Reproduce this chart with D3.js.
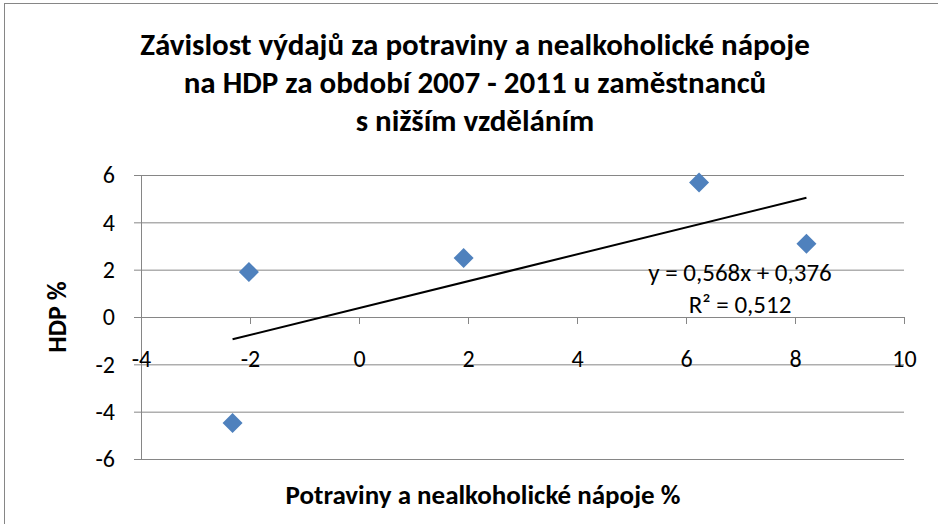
<!DOCTYPE html>
<html>
<head>
<meta charset="utf-8">
<script src="https://cdn.jsdelivr.net/npm/d3@7"></script>
<style>
  body { margin: 0; background: #fff; }
  text { font-family: Carlito, Calibri, "Open Sans", sans-serif; fill: #000; }
</style>
</head>
<body>
<div id="chart"></div>
<script>
// data
const titleLines = ["Závislost výdajů za potraviny a nealkoholické nápoje",
                    "na HDP za období 2007 - 2011 u zaměstnanců",
                    "s nižším vzděláním"];
const xValues = [-2.32, -2.02, 1.92, 6.24, 8.21];
const yValues = [-4.48, 1.90, 2.49, 5.68, 3.10];
const xTicks = [-4, -2, 0, 2, 4, 6, 8, 10];
const yTicks = [-6, -4, -2, 0, 2, 4, 6];
const slope = 0.568, intercept = 0.376;
const equationLines = ["y = 0,568x + 0,376", "R² = 0,512"];
const xTitle = "Potraviny a nealkoholické nápoje %";
const yTitle = "HDP %";

const W = 938, H = 524;
const grid = "#868686";

const svg = d3.select("#chart")
  .append("svg")
    .attr("width", W)
    .attr("height", H);

// chart border (only top and left are visible in the crop)
svg.append("rect")
  .attr("x", 4.5).attr("y", 3.5)
  .attr("width", W + 20).attr("height", H + 20)
  .attr("fill", "#fff")
  .attr("stroke", grid);

// scales
const x = d3.scaleLinear().domain([-4, 10]).range([141, 904]);
const y = d3.scaleLinear().domain([-6, 6]).range([459, 175]);

// plain hyphen for negatives, like the original
const fmt = d => String(d);

// title
svg.append("g")
  .selectAll("text")
  .data(titleLines)
  .join("text")
    .attr("x", 475)
    .attr("y", (d, i) => 55 + i * 38)
    .attr("text-anchor", "middle")
    .style("font-size", "31px")
    .style("font-weight", "bold")
    .text(d => d);

// horizontal gridlines + y axis
const yAxis = d3.axisLeft(y)
  .tickValues(yTicks)
  .tickSize(-(x(10) - x(-4)))
  .tickSizeOuter(0)
  .tickPadding(26)
  .tickFormat(fmt);
const gy = svg.append("g")
  .attr("transform", `translate(${x(-4)},0)`)
  .call(yAxis);
gy.select(".domain").attr("stroke", grid);
gy.selectAll(".tick line").attr("stroke", grid).attr("x1", -7);
gy.selectAll(".tick text")
  .style("font-size", "24px")
  .attr("font-family", null);

// x axis crossing at y = 0
const xAxis = d3.axisBottom(x)
  .tickValues(xTicks)
  .tickSize(7)
  .tickSizeOuter(0)
  .tickPadding(26)
  .tickFormat(fmt);
const gx = svg.append("g")
  .attr("transform", `translate(0,${y(0)})`)
  .call(xAxis);
gx.select(".domain").attr("stroke", grid);
gx.selectAll(".tick line").attr("stroke", grid);
gx.selectAll(".tick text")
  .style("font-size", "24px")
  .attr("font-family", null);

// trendline
const xMin = d3.min(xValues), xMax = d3.max(xValues);
svg.append("line")
  .attr("x1", x(xMin)).attr("y1", y(slope * xMin + intercept))
  .attr("x2", x(xMax)).attr("y2", y(slope * xMax + intercept))
  .attr("stroke", "#000")
  .attr("stroke-width", 2);

// points
const points = xValues.map((v, i) => ({x: v, y: yValues[i]}));
svg.append("g")
  .selectAll("path")
  .data(points)
  .join("path")
    .attr("d", d3.symbol(d3.symbolSquare, 200))
    .attr("transform", d => `translate(${x(d.x)},${y(d.y)}) rotate(45)`)
    .attr("fill", "#4f81bd");

// equation
svg.append("g")
  .selectAll("text")
  .data(equationLines)
  .join("text")
    .attr("x", 740)
    .attr("y", (d, i) => 281 + i * 32)
    .attr("text-anchor", "middle")
    .style("font-size", "25px")
    .text(d => d);

// axis titles
svg.append("text")
  .attr("x", 483)
  .attr("y", 504)
  .attr("text-anchor", "middle")
  .style("font-size", "27px")
  .style("font-weight", "bold")
  .text(xTitle);

svg.append("text")
  .attr("transform", `translate(66,317) rotate(-90)`)
  .attr("text-anchor", "middle")
  .style("font-size", "26px")
  .style("font-weight", "bold")
  .text(yTitle);
</script>
</body>
</html>
